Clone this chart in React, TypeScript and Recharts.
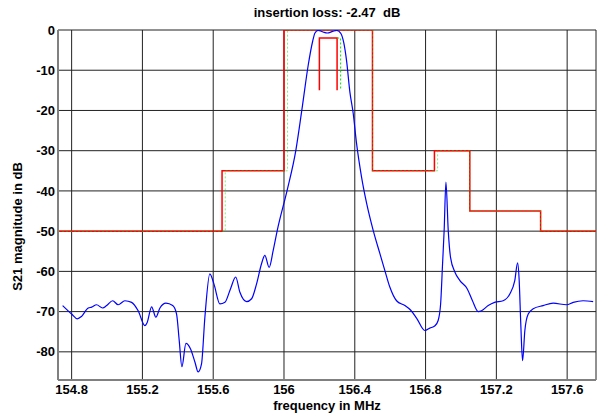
import React from "react";
import { LineChart, Line, XAxis, YAxis, CartesianGrid } from "recharts";

// frequency axis range (MHz) and magnitude range (dB)
const xDomain: [number, number] = [154.723, 157.763];
const yDomain: [number, number] = [-87, 0];

const xTicks = [154.8, 155.2, 155.6, 156, 156.4, 156.8, 157.2, 157.6];
const yTicks = [0, -10, -20, -30, -40, -50, -60, -70, -80];

// measured S21 (frequency in MHz, magnitude in dB)
const s21Freq = [
  154.749, 154.8, 154.832, 154.856, 154.894, 154.913, 154.941, 154.975, 154.998,
  155.032, 155.063, 155.101, 155.139, 155.176, 155.214, 155.227, 155.252,
  155.276, 155.299, 155.333, 155.371, 155.393, 155.408, 155.423, 155.446,
  155.472, 155.497, 155.515, 155.534, 155.553, 155.581, 155.604, 155.638,
  155.666, 155.698, 155.727, 155.751, 155.789, 155.817, 155.845, 155.873,
  155.892, 155.916, 155.939, 155.962, 156.018, 156.067, 156.105, 156.137,
  156.162, 156.175, 156.193, 156.221, 156.244, 156.275, 156.297, 156.32,
  156.338, 156.354, 156.372, 156.391, 156.41, 156.438, 156.467, 156.504,
  156.542, 156.57, 156.598, 156.636, 156.683, 156.715, 156.749, 156.796,
  156.824, 156.853, 156.871, 156.885, 156.896, 156.905, 156.915, 156.928,
  156.941, 156.966, 156.994, 157.035, 157.065, 157.097, 157.116, 157.154,
  157.19, 157.238, 157.276, 157.304, 157.32, 157.329, 157.338, 157.348,
  157.361, 157.38, 157.408, 157.464, 157.521, 157.597, 157.634, 157.69, 157.747,
];
const s21Mag = [
  -68.5, -70.6, -71.8, -71.2, -69.1, -68.9, -68.3, -69.1, -68.5,
  -67.3, -68.3, -67.3, -67.7, -69.8, -73.5, -72.7, -68.8,
  -71.4, -69.1, -67.9, -68.5, -70.6, -77.2, -83.7, -77.9,
  -79.3, -82.6, -85.0, -83.0, -71.4, -60.6, -63.1, -68.1,
  -67.7, -64.3, -61.4, -65.2, -67.5, -66.8, -63.1, -58.1,
  -56.0, -59.0, -54.8, -49.8, -39.8, -29.9, -18.6, -8.7,
  -2.8, -0.75, -0.1, -0.5, -0.75, -0.35, -0.1, -0.75,
  -3.2, -7.8, -15.3, -20.7, -28.2, -36.5, -43.1, -49.8,
  -55.6, -59.8, -63.9, -67.3, -68.5, -69.6, -71.6, -74.7,
  -74.1, -73.5, -72.2, -68.1, -58.1, -49.8, -37.8, -49.8,
  -56.5, -60.2, -62.3, -64.3, -67.3, -70.0, -69.8, -68.5,
  -67.7, -67.3, -65.6, -62.3, -57.9, -62.3, -73.1, -82.2,
  -74.7, -70.6, -69.3, -68.5, -67.9, -68.3, -67.7, -67.3, -67.5,
];

// spec mask (red) and second mask (green dashed)
const maskFreq = [
  154.723, 155.65, 155.65, 156.0, 156.0, 156.5, 156.5, 156.85, 156.85,
  157.05, 157.05, 157.45, 157.45, 157.763,
];
const maskMag = [-50, -50, -35, -35, 0, 0, -35, -35, -30, -30, -45, -45, -50, -50];
const mask2Freq = [
  154.723, 155.668, 155.668, 156.02, 156.02, 156.5, 156.5, 156.868, 156.868,
  157.05, 157.05, 157.45, 157.45, 157.763,
];
const mask2Mag = [-50, -50, -35, -35, 0, 0, -35, -35, -30, -30, -45, -45, -50, -50];

// passband ripple window
const innerFreq = [156.2, 156.2, 156.3, 156.3];
const innerMag = [-15, -2, -2, -15];
const inner2Freq = [156.3, 156.32, 156.32];
const inner2Mag = [-2, -2, -15];

const zip = (xs: number[], ys: number[]) => xs.map((f, i) => ({ f, db: ys[i] }));

const font = '"Liberation Sans", Arial, sans-serif';
const tickStyle = { fill: "#000", fontSize: 13, fontWeight: 700, fontFamily: font };

export default function App() {
  return (
    <div style={{ position: "absolute", left: 0, top: 0, width: 597, height: 414, background: "#fff" }}>
      <LineChart width={597} height={414} margin={{ top: 30, right: 1, bottom: 0, left: 0 }}>
        <CartesianGrid stroke="#222" strokeWidth={1} />
        <XAxis
          type="number"
          dataKey="f"
          domain={xDomain}
          ticks={xTicks}
          allowDataOverflow
          height={34}
          tickSize={0}
          tickMargin={5}
          tick={tickStyle}
          axisLine={{ stroke: "#808080", strokeWidth: 2 }}
        />
        <YAxis
          type="number"
          dataKey="db"
          domain={yDomain}
          ticks={yTicks}
          allowDataOverflow
          width={58}
          tickSize={0}
          tickMargin={3}
          tick={tickStyle}
          axisLine={{ stroke: "#808080", strokeWidth: 2 }}
        />
        <Line data={zip(maskFreq, maskMag)} dataKey="db" type="linear" stroke="#ff0000" strokeWidth={1.5} dot={false} isAnimationActive={false} />
        <Line data={zip(innerFreq, innerMag)} dataKey="db" type="linear" stroke="#ff0000" strokeWidth={1.5} dot={false} isAnimationActive={false} />
        <Line data={zip(mask2Freq, mask2Mag)} dataKey="db" type="linear" stroke="#00e000" strokeOpacity={0.5} strokeDasharray="2 2" strokeWidth={1} dot={false} isAnimationActive={false} />
        <Line data={zip(inner2Freq, inner2Mag)} dataKey="db" type="linear" stroke="#00e000" strokeDasharray="2 2" strokeWidth={1} dot={false} isAnimationActive={false} />
        <Line data={zip(s21Freq, s21Mag)} dataKey="db" type="monotone" stroke="#0000ff" strokeWidth={1.2} dot={false} isAnimationActive={false} />
      </LineChart>
      <div style={{ position: "absolute", left: 58, width: 538, top: 6, textAlign: "center", font: `700 13px ${font}`, lineHeight: "13px" }}>
        insertion loss: -2.47&nbsp;&nbsp;dB
      </div>
      <div style={{ position: "absolute", left: 58, width: 538, top: 399, textAlign: "center", font: `700 13px ${font}`, lineHeight: "13px" }}>
        frequency in MHz
      </div>
      <div
        style={{
          position: "absolute",
          left: 17 - 100,
          top: 227 - 7,
          width: 200,
          textAlign: "center",
          font: `700 13px ${font}`,
          lineHeight: "13px",
          transform: "rotate(-90deg)",
        }}
      >
        S21 magnitude in dB
      </div>
    </div>
  );
}
